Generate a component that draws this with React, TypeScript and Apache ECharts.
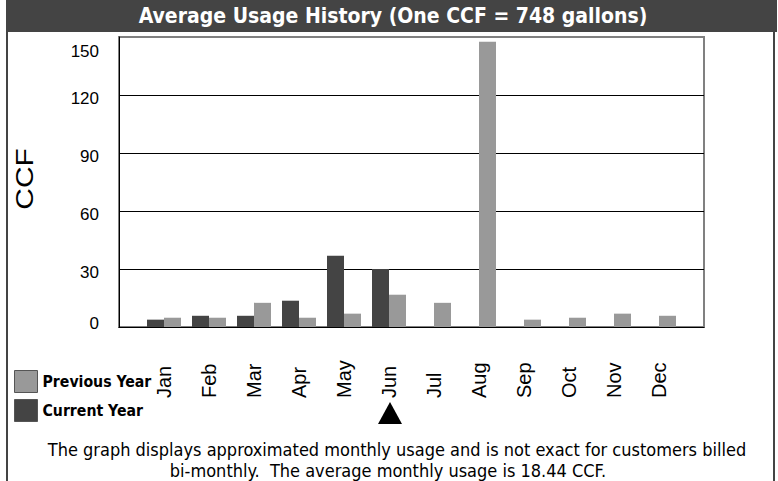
import React, { useEffect, useRef } from "react";
import * as echarts from "echarts";

const months = ["Jan", "Feb", "Mar", "Apr", "May", "Jun", "Jul", "Aug", "Sep", "Oct", "Nov", "Dec"];
const previousYear = [4.8, 4.8, 12.5, 4.8, 6.9, 16.7, 12.5, 147.6, 3.8, 4.8, 6.9, 5.8];
const currentYear: (number | null)[] = [3.8, 5.8, 5.8, 13.6, 36.9, 30, null, null, null, null, null, null];
const currentMonth = "Jun";
const yMax = 150;
const yInterval = 30;
const titleText = "Average Usage History (One CCF = 748 gallons)";
const noteLine1 = "The graph displays approximated monthly usage and is not exact for customers billed";
const noteLine2 = "bi-monthly.  The average monthly usage is 18.44 CCF.";

const SANS = '"Liberation Sans", Arial, sans-serif';
const TAHOMA = '"DejaVu Sans Condensed", "DejaVu Sans", sans-serif';

export default function App() {
  const ref = useRef<HTMLDivElement>(null);
  useEffect(() => {
    if (!ref.current) return;
    const chart = echarts.init(ref.current, undefined, { renderer: "svg" });
    const axisCats = ["", ...months, ""];
    const yl = { fontSize: 17, fontFamily: SANS, color: "#000" };
    chart.setOption({
      animation: false,
      backgroundColor: "#fff",
      grid: {
        left: 119, right: 74, top: 37, bottom: 154,
        show: true, borderColor: "#808080", borderWidth: 2,
        outerBoundsMode: "none",
      },
      legend: {
        left: 14, top: 370, orient: "vertical",
        itemWidth: 23, itemHeight: 22, itemGap: 6, padding: 0,
        icon: "rect", selectedMode: false,
        data: ["Previous Year", "Current Year"],
        textStyle: { fontFamily: TAHOMA, fontWeight: "bold", fontSize: 15.7, color: "#000" },
        itemStyle: { borderColor: "#555", borderWidth: 1 },
      },
      xAxis: {
        type: "category", data: axisCats, boundaryGap: false,
        axisLine: { lineStyle: { color: "#000", width: 1 } },
        axisTick: { show: false },
        splitLine: { show: false },
        axisLabel: {
          rotate: 90, interval: 0, fontSize: 20, fontFamily: SANS, color: "#000",
          margin: 71, align: "left", verticalAlign: "middle",
        },
      },
      yAxis: {
        type: "value", min: 0, max: yMax, interval: yInterval,
        axisLine: { show: true, lineStyle: { color: "#000", width: 1 } },
        axisTick: { show: false },
        axisLabel: {
          ...yl, margin: 20,
          formatter: (v: number) => (v === yMax ? `{top|${v}}` : v === 0 ? `{bot|${v}}` : `{mid|${v}}`),
          rich: {
            top: { ...yl, padding: [28, 0, 0, 0] },
            mid: { ...yl, padding: [6, 0, 0, 0] },
            bot: { ...yl, padding: [0, 0, 8, 0] },
          },
        },
        splitLine: { show: true, showMinLine: false, showMaxLine: false, lineStyle: { color: "#000", width: 1 } },
      },
      series: [
        {
          name: "Current Year", type: "bar", barWidth: 17, barGap: "0%",
          itemStyle: { color: "#444444" },
          data: [null, ...currentYear, null],
        },
        {
          name: "Previous Year", type: "bar", barWidth: 17, barGap: "0%",
          itemStyle: { color: "#999999" },
          data: [null, ...previousYear, null],
        },
      ],
    });
    const px = chart.convertToPixel({ xAxisIndex: 0 }, currentMonth) as number;
    chart.setOption({
      graphic: [
        { type: "rect", shape: { x: 6, y: 0, width: 771, height: 32 }, style: { fill: "#444" } },
        { type: "rect", shape: { x: 6, y: 0, width: 2, height: 481 }, style: { fill: "#444" } },
        { type: "rect", shape: { x: 773, y: 0, width: 2, height: 481 }, style: { fill: "#444" } },
        {
          type: "text", x: 393, y: 16,
          style: { text: titleText, font: `bold 21px ${TAHOMA}`, fill: "#fff", align: "center", verticalAlign: "middle", textAlign: "center", textVerticalAlign: "middle" },
        },
        {
          type: "text", x: 25, y: 179, rotation: Math.PI / 2, scaleX: 1.3,
          style: { text: "CCF", font: `23px ${SANS}`, fill: "#000", align: "center", verticalAlign: "middle", textAlign: "center", textVerticalAlign: "middle" },
        },
        {
          type: "polygon",
          shape: { points: [[px - 12 + 1, 424], [px + 12 + 1, 424], [px + 1, 402]] },
          style: { fill: "#000" },
        },
        {
          type: "text", x: 397, y: 449,
          style: { text: noteLine1, font: `18px ${TAHOMA}`, fill: "#000", align: "center", verticalAlign: "middle", textAlign: "center", textVerticalAlign: "middle" },
        },
        {
          type: "text", x: 388, y: 470,
          style: { text: noteLine2, font: `18px ${TAHOMA}`, fill: "#000", align: "center", verticalAlign: "middle", textAlign: "center", textVerticalAlign: "middle" },
        },
      ],
    });
    return () => chart.dispose();
  }, []);
  return <div ref={ref} style={{ position: "fixed", left: 0, top: 0, width: 778, height: 481 }} />;
}
